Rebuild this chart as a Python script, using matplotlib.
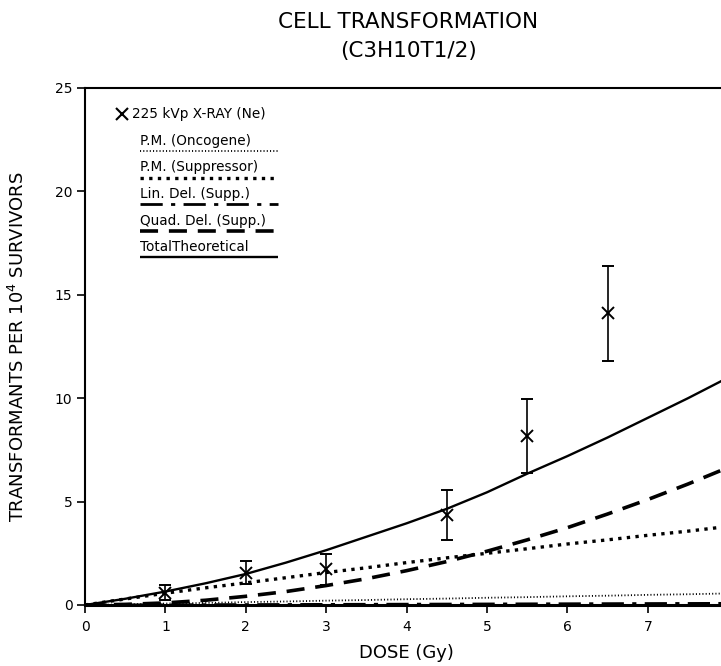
import matplotlib as mpl
mpl.use('Agg')

import numpy as np
import matplotlib.pyplot as plt

# measured points (225 kVp X-ray)
dose_pts = [1, 2, 3, 4.5, 5.5, 6.5]
tf_pts = [0.6, 1.56, 1.72, 4.35, 8.16, 14.1]
tf_err = [0.37, 0.56, 0.73, 1.2, 1.78, 2.3]

# theoretical curves
dose = [0, 0.5, 1, 1.5, 2, 2.5, 3, 3.5, 4, 4.5, 5, 5.5, 6, 6.5, 7, 7.5, 8]
pm_onco = [0, 0.03, 0.07, 0.1, 0.14, 0.17, 0.21, 0.24, 0.28, 0.31, 0.35,
           0.38, 0.42, 0.45, 0.49, 0.52, 0.56]
pm_supp = [0, 0.29, 0.57, 0.83, 1.07, 1.32, 1.57, 1.8, 2.05, 2.28, 2.5,
           2.72, 2.95, 3.15, 3.37, 3.57, 3.8]
lin_del = [0, 0.005, 0.01, 0.015, 0.02, 0.025, 0.03, 0.035, 0.04, 0.045,
           0.05, 0.055, 0.06, 0.065, 0.07, 0.075, 0.08]
quad_del = [0, 0.03, 0.1, 0.23, 0.42, 0.65, 0.94, 1.27, 1.66, 2.1, 2.6,
            3.15, 3.74, 4.4, 5.1, 5.85, 6.65]
total = [0, 0.3, 0.65, 1.05, 1.5, 2.05, 2.65, 3.3, 3.95, 4.65, 5.45,
         6.35, 7.2, 8.1, 9.05, 10.0, 11.0]

legend_labels = ['P.M. (Oncogene)', 'P.M. (Suppressor)', 'Lin. Del. (Supp.)',
                 'Quad. Del. (Supp.)', 'TotalTheoretical']

#line styles for the curves (also used for the legend underlines)
styles = [dict(ls=(0, (0.6, 1.2)), lw=1.3),
          dict(ls=(0, (1, 1.6)), lw=2.4),
          dict(ls=(0, (8, 3, 1.5, 3)), lw=2.0),
          dict(ls=(0, (5, 3)), lw=2.6),
          dict(ls='-', lw=1.7)]

fig = plt.figure(figsize=(7.21, 6.66), dpi=100)
ax = fig.add_axes([0.1179, 0.0916, 0.8821, 0.7763])

for vals, st in zip([pm_onco, pm_supp, lin_del, quad_del, total], styles):
    ax.plot(dose, vals, color='k', solid_capstyle='butt', **st)

ax.errorbar(dose_pts, tf_pts, yerr=tf_err, fmt='x', color='k', ms=8,
            mew=1.4, ecolor='k', elinewidth=1.2, capsize=4.5, capthick=1.5)

ax.set_xlim(0, 7.91)
ax.set_ylim(0, 25)
ax.set_xticks(range(0, 8))
ax.set_yticks(range(0, 30, 5))

ax.spines['right'].set_visible(False)
ax.spines['bottom'].set_linewidth(2.2)
ax.spines['left'].set_linewidth(1.5)
ax.spines['top'].set_linewidth(1.5)
ax.tick_params(axis='both', direction='out', length=6, width=1.2,
               labelsize=10)
ax.tick_params(axis='x', pad=5)
ax.tick_params(axis='y', pad=3)

ax.set_xlabel('DOSE (Gy)', fontsize=13)
ax.xaxis.set_label_coords(0.505, -0.075)
ax.set_ylabel('TRANSFORMANTS PER 10$^{4}$ SURVIVORS', fontsize=13)
ax.yaxis.set_label_coords(-0.09, 0.5)

fig.text(0.566, 0.967, 'CELL TRANSFORMATION', ha='center', va='center',
         fontsize=15.5)
fig.text(0.566, 0.923, '(C3H10T1/2)', ha='center', va='center',
         fontsize=15.5)

# hand-made legend: symbol line, then labels with their line underneath
ax.plot([0.058], [0.950], 'x', color='k', ms=8, mew=1.5,
        transform=ax.transAxes, clip_on=False)
ax.text(0.074, 0.950, '225 kVp X-RAY (Ne)', transform=ax.transAxes,
        ha='left', va='center', fontsize=9.8)
for i, (lab, st) in enumerate(zip(legend_labels, styles)):
    yb = 0.880 - i * 0.0513
    ax.text(0.0865, yb + 0.004, lab, transform=ax.transAxes, ha='left',
            va='bottom', fontsize=9.8)
    ax.plot([0.0865, 0.3035], [yb - 0.002, yb - 0.002], color='k',
            transform=ax.transAxes, solid_capstyle='butt', **st)

plt.savefig('out.png', dpi=100)
